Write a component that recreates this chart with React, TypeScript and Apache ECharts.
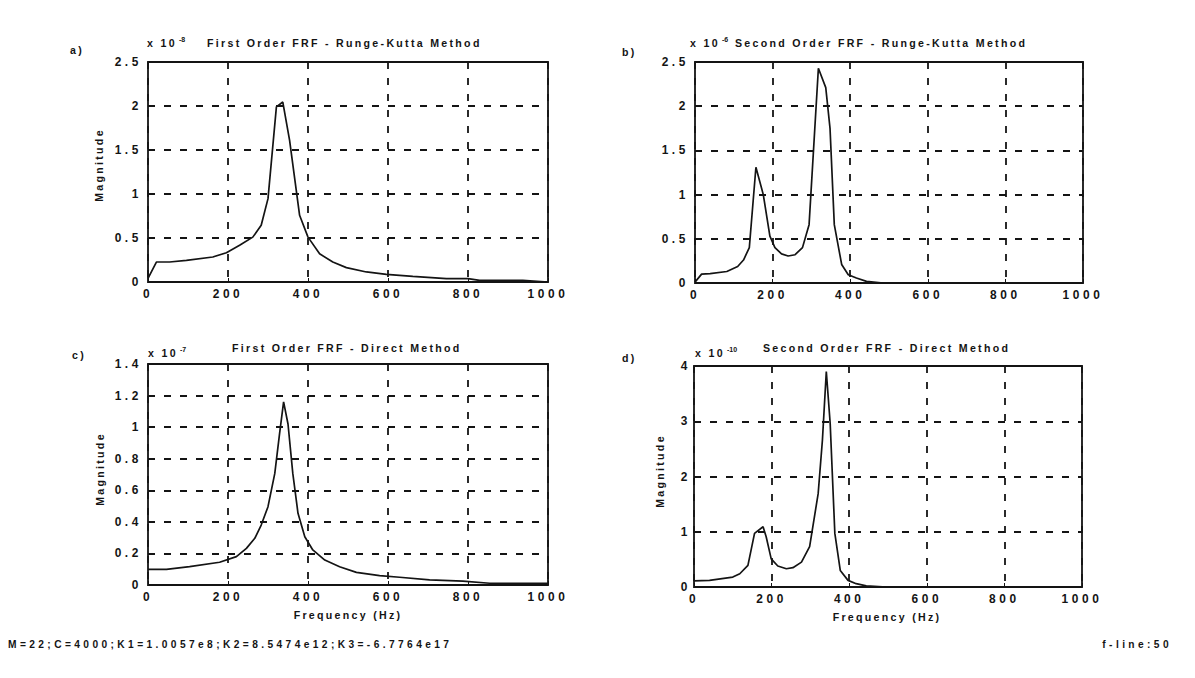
import { useEffect, useRef } from "react";
import * as echarts from "echarts";

// Frequency response magnitudes (in units of the axis multiplier shown above each panel)
const freqA = [0, 21, 54, 96, 162, 196, 229, 262, 283, 300, 321, 337, 354, 379, 400, 429, 462, 496, 546, 596, 662, 746, 800, 829, 937, 1000];
const magA = [0.04, 0.227, 0.227, 0.246, 0.284, 0.333, 0.417, 0.51, 0.644, 0.947, 1.99, 2.045, 1.61, 0.758, 0.51, 0.32, 0.227, 0.163, 0.114, 0.087, 0.064, 0.038, 0.038, 0.019, 0.019, 0.0];

const freqB = [0, 17, 39, 82, 110, 125, 140, 157, 176, 193, 206, 223, 240, 258, 277, 294, 318, 337, 348, 359, 378, 395, 416, 442, 485, 1000];
const magB = [0.01, 0.1, 0.106, 0.13, 0.186, 0.26, 0.4, 1.31, 1.0, 0.53, 0.4, 0.33, 0.305, 0.32, 0.4, 0.66, 2.43, 2.21, 1.75, 0.66, 0.21, 0.094, 0.057, 0.019, 0.0, 0.0];

const freqC = [0, 46, 104, 179, 221, 246, 267, 283, 300, 317, 329, 339, 350, 362, 375, 392, 412, 442, 479, 521, 579, 629, 704, 787, 854, 1000];
const magC = [0.099, 0.099, 0.116, 0.144, 0.18, 0.232, 0.296, 0.38, 0.496, 0.707, 0.96, 1.16, 1.02, 0.707, 0.454, 0.306, 0.222, 0.158, 0.116, 0.08, 0.059, 0.049, 0.032, 0.025, 0.011, 0.011];

const freqD = [0, 40, 100, 118, 139, 156, 178, 186, 199, 216, 238, 255, 277, 298, 320, 331, 341, 351, 363, 377, 397, 418, 444, 496, 1000];
const magD = [0.11, 0.12, 0.18, 0.24, 0.39, 0.97, 1.09, 0.91, 0.51, 0.38, 0.33, 0.35, 0.45, 0.73, 1.69, 2.66, 3.9, 2.96, 0.97, 0.3, 0.12, 0.06, 0.02, 0.0, 0.0];

const panelTitles = [
  "First Order FRF - Runge-Kutta Method",
  "Second Order FRF - Runge-Kutta Method",
  "First Order FRF - Direct Method",
  "Second Order FRF - Direct Method",
];
const exponents = ["-8", "-6", "-7", "-10"];
const panelTags = ["a)", "b)", "c)", "d)"];
const yMax = [2.5, 2.5, 1.4, 4];
const yStep = [0.5, 0.5, 0.2, 1];
const freqMax = 1000;
const freqStep = 200;
const xAxisName = "Frequency (Hz)";
const yAxisName = "Magnitude";
const paramNote = "M=22;C=4000;K1=1.0057e8;K2=8.5474e12;K3=-6.7764e17";
const lineNote = "f-line:50";

const FONT = "Liberation Sans";
const INK = "#141414";

// plot boxes
const boxes = [
  { left: 148, top: 62, width: 400, height: 220 },
  { left: 695, top: 62, width: 388, height: 221 },
  { left: 148, top: 364, width: 400, height: 221 },
  { left: 694, top: 366, width: 388, height: 221 },
];
const yLabelMargin = [6, 6, 6, 3];

// text positions
const tagPos = [[70, 50], [622, 52], [72, 355], [622, 358]];
const expPos = [[147, 43], [690, 43], [148, 353], [695, 353]];
const titlePos = [[207, 43], [735, 43], [232, 348], [763, 348]];
const yNamePos = [[99, 165], null, [100, 469], [660, 471]];
const xNamePos = [null, null, [348, 615], [887, 617]];

// wide tracking of the plotted lettering
const trackingCss = `
#frf-fig text[style*="11.9px"]{letter-spacing:3.6px}
#frf-fig text[style*="10.6px"]{letter-spacing:2.3px}
#frf-fig text[style*="10.2px"]{letter-spacing:3.4px}
`;

const seriesData = [
  [freqA, magA],
  [freqB, magB],
  [freqC, magC],
  [freqD, magD],
];

const plain = (v: number) => String(+v.toFixed(2));

function label(text: string, x: number, y: number, size: number, align = "left", rotation = 0) {
  return {
    type: "text",
    x,
    y,
    rotation,
    silent: true,
    style: {
      text,
      fontSize: size,
      fontFamily: FONT,
      fontWeight: "bold",
      fill: INK,
      textAlign: align,
      textVerticalAlign: "middle",
    },
  };
}

export default function App() {
  const ref = useRef<HTMLDivElement>(null);

  useEffect(() => {
    if (!ref.current) return;
    const chart = echarts.init(ref.current, undefined, { renderer: "svg" });

    const graphic: any[] = [];
    for (let i = 0; i < 4; i++) {
      graphic.push(label(panelTags[i], tagPos[i][0], tagPos[i][1], 10.6));
      graphic.push(label("x 10", expPos[i][0], expPos[i][1], 10.6));
      graphic.push(label(exponents[i], expPos[i][0] + 32, expPos[i][1] - 4, 7));
      graphic.push(label(panelTitles[i], titlePos[i][0], titlePos[i][1], 10.6));
      const yp = yNamePos[i];
      if (yp) graphic.push(label(yAxisName, yp[0], yp[1], 10.6, "center", Math.PI / 2));
      const xp = xNamePos[i];
      if (xp) graphic.push(label(xAxisName, xp[0], xp[1], 10.6, "center"));
    }
    graphic.push(label(paramNote, 8, 644, 10.2));
    graphic.push(label(lineNote, 1172, 644, 10.2, "right"));

    const dash = { color: INK, type: [7, 9], width: 1.8 };
    const tickText = { color: INK, fontFamily: FONT, fontWeight: "bold", fontSize: 11.9, formatter: plain };

    chart.setOption({
      animation: false,
      backgroundColor: "#ffffff",
      grid: boxes.map((b) => ({
        ...b,
        show: true,
        borderColor: INK,
        borderWidth: 1.8,
        backgroundColor: "transparent",
        containLabel: false,
      })),
      xAxis: boxes.map((_, i) => ({
        type: "value",
        gridIndex: i,
        min: 0,
        max: freqMax,
        interval: freqStep,
        axisLine: { show: false },
        axisTick: { show: true, inside: true, length: 4, lineStyle: { color: INK } },
        axisLabel: { ...tickText, margin: 6 },
        splitLine: { show: true, lineStyle: dash },
      })),
      yAxis: boxes.map((_, i) => ({
        type: "value",
        gridIndex: i,
        min: 0,
        max: yMax[i],
        interval: yStep[i],
        axisLine: { show: false },
        axisTick: { show: true, inside: true, length: 4, lineStyle: { color: INK } },
        axisLabel: { ...tickText, margin: yLabelMargin[i] },
        splitLine: { show: true, lineStyle: dash },
      })),
      series: seriesData.map(([f, m], i) => ({
        type: "line",
        xAxisIndex: i,
        yAxisIndex: i,
        data: f.map((v, k) => [v, m[k]]),
        symbol: "none",
        silent: true,
        lineStyle: { color: INK, width: 1.7 },
      })),
      graphic,
    });

    return () => chart.dispose();
  }, []);

  return (
    <div>
      <style>{trackingCss}</style>
      <div
        id="frf-fig"
        ref={ref}
        style={{ position: "absolute", left: 0, top: 0, width: 1195, height: 678, background: "#fff" }}
      />
    </div>
  );
}
